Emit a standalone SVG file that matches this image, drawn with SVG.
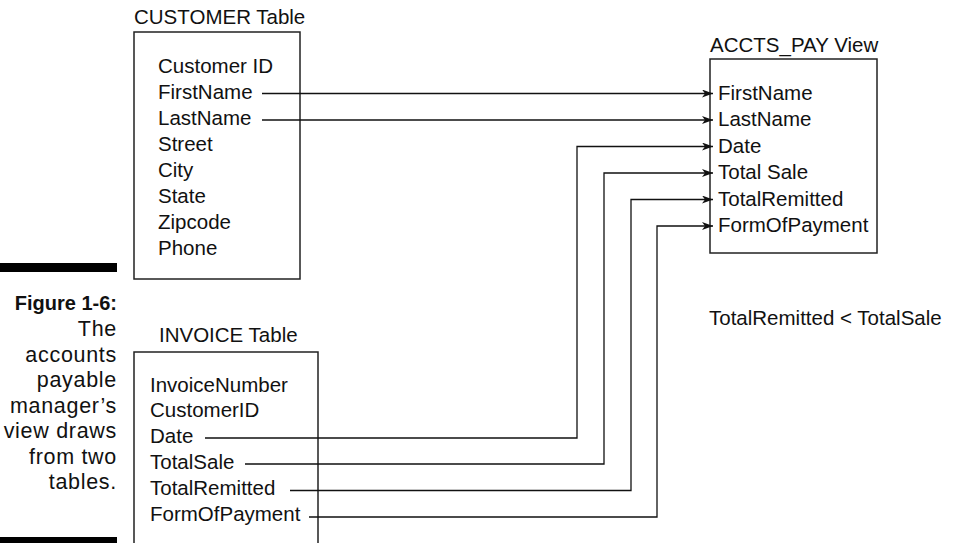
<svg xmlns="http://www.w3.org/2000/svg" width="954" height="543" viewBox="0 0 954 543">
<defs>
<style>
text{font-family:"Liberation Sans",Arial,sans-serif;font-size:20.5px;fill:#111}
.cap{text-anchor:end;font-size:21.5px;letter-spacing:0.7px}
.b{font-weight:bold;font-size:20px;letter-spacing:0}
.box{fill:none;stroke:#222;stroke-width:1.5}
.ln{fill:none;stroke:#111;stroke-width:1.3}
</style>
<marker id="ah" markerUnits="userSpaceOnUse" markerWidth="12" markerHeight="10" refX="11" refY="4" orient="auto">
<path d="M0,0 L11,4 L0,8 L3,4 Z" fill="#111"/>
</marker>
</defs>
<rect width="954" height="543" fill="#fff"/>
<g id="caption">
<rect x="0" y="263" width="117" height="9" fill="#000"/>
<rect x="0" y="537" width="117" height="6" fill="#000"/>
<text class="cap b" x="117" y="310">Figure 1-6:</text>
<text class="cap" x="117" y="336">The</text>
<text class="cap" x="117" y="361.5">accounts</text>
<text class="cap" x="117" y="387">payable</text>
<text class="cap" x="117" y="412.5">manager’s</text>
<text class="cap" x="117" y="438">view draws</text>
<text class="cap" x="117" y="463.5">from two</text>
<text class="cap" x="117" y="489">tables.</text>
</g>
<g id="customer">
<text x="134" y="24">CUSTOMER Table</text>
<rect class="box" x="134" y="32" width="166" height="247"/>
<text x="158" y="73">Customer ID</text>
<text x="158" y="99">FirstName</text>
<text x="158" y="125">LastName</text>
<text x="158" y="151">Street</text>
<text x="158" y="177">City</text>
<text x="158" y="203">State</text>
<text x="158" y="229">Zipcode</text>
<text x="158" y="255">Phone</text>
</g>
<g id="invoice">
<text x="159" y="342">INVOICE Table</text>
<path class="box" d="M134,545 V352 H318 V545"/>
<text x="150" y="392">InvoiceNumber</text>
<text x="150" y="417">CustomerID</text>
<text x="150" y="443">Date</text>
<text x="150" y="469">TotalSale</text>
<text x="150" y="495">TotalRemitted</text>
<text x="150" y="521">FormOfPayment</text>
</g>
<g id="accts_pay">
<text x="710" y="52">ACCTS_PAY View</text>
<rect class="box" x="710" y="59" width="167" height="194"/>
<text x="718" y="99.5">FirstName</text>
<text x="718" y="126">LastName</text>
<text x="718" y="152.5">Date</text>
<text x="718" y="179">Total Sale</text>
<text x="718" y="205.5">TotalRemitted</text>
<text x="718" y="232">FormOfPayment</text>
</g>
<g id="note">
<text x="709" y="325">TotalRemitted &lt; TotalSale</text>
</g>
<g id="connectors">
<path class="ln" d="M262,93.5 H713" marker-end="url(#ah)"/>
<path class="ln" d="M262,120 H713" marker-end="url(#ah)"/>
<path class="ln" d="M205,438 H577 V146.5 H713" marker-end="url(#ah)"/>
<path class="ln" d="M245,464 H604 V173 H713" marker-end="url(#ah)"/>
<path class="ln" d="M290,490.5 H631 V199.5 H713" marker-end="url(#ah)"/>
<path class="ln" d="M309,517 H657 V226 H713" marker-end="url(#ah)"/>
</g>
</svg>
